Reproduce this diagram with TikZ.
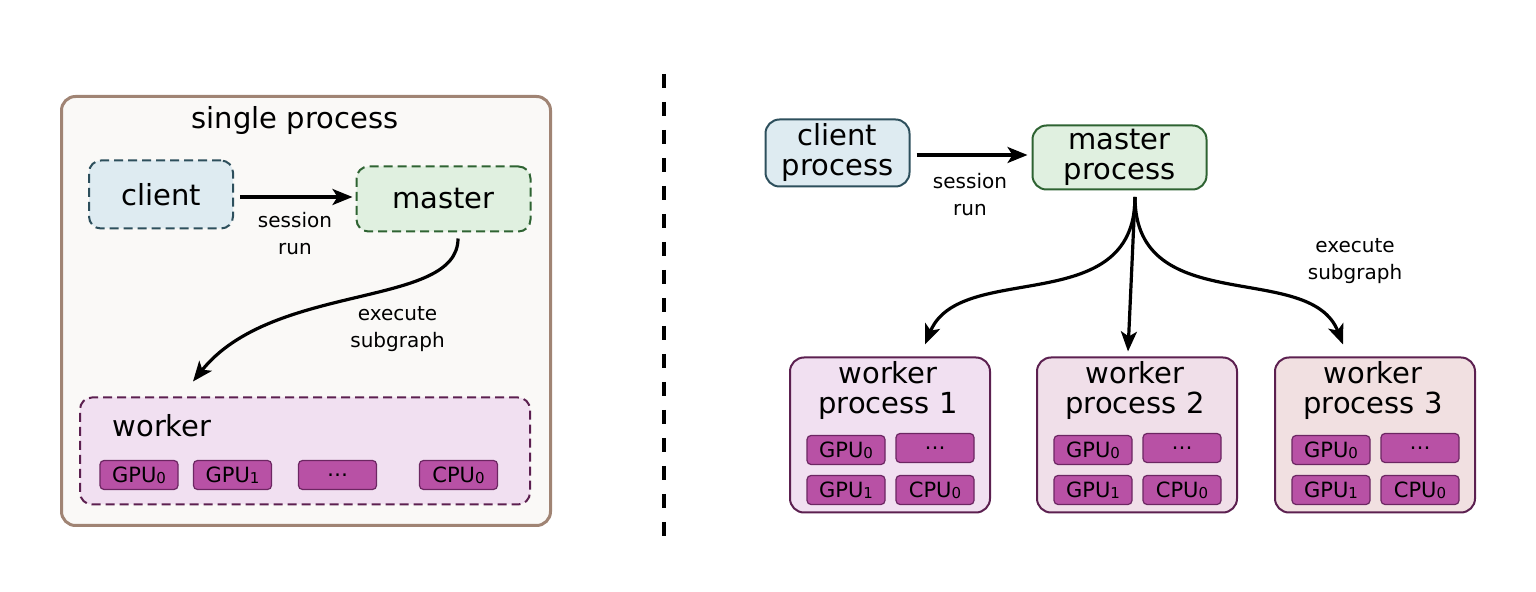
\documentclass[tikz,border=0pt]{standalone}
\usepackage{fontspec}
\setmainfont{DejaVu Sans}
\usetikzlibrary{arrows.meta}
\newcommand{\devsub}[1]{\raisebox{-0.1ex}{\fontsize{7.5}{7.5}\selectfont #1}}

\begin{document}
\begin{tikzpicture}[x=0.5pt,y=-0.5pt]
        % Colors
        \definecolor{procframe}{RGB}{160,132,116}
        \definecolor{procfill}{RGB}{250,249,247}
        \definecolor{clientline}{RGB}{45,79,92}
        \definecolor{clientfill}{RGB}{222,235,241}
        \definecolor{masterline}{RGB}{46,99,50}
        \definecolor{masterfill}{RGB}{224,240,224}
        \definecolor{workerline}{RGB}{92,32,80}
        \definecolor{workerfillA}{RGB}{241,224,241}
        \definecolor{workerfillB}{RGB}{240,223,233}
        \definecolor{workerfillC}{RGB}{241,224,225}
        \definecolor{devfill}{RGB}{184,81,165}
        \definecolor{devline}{RGB}{108,38,98}
        % Styles
        \tikzstyle{big text}=[font=\fontsize{14.5}{15}\selectfont,align=center,inner sep=0pt]
        \tikzstyle{small text}=[font=\fontsize{10}{13.5}\selectfont,align=center,inner sep=0pt]
        \tikzstyle{local box}=[line width=1pt,rounded corners=6pt,dash pattern=on 4.5pt off 2.5pt,inner sep=0pt]
        \tikzstyle{remote box}=[line width=1pt,rounded corners=7pt,inner sep=0pt]
        \tikzstyle{device}=[draw=devline,fill=devfill,line width=0.6pt,rounded corners=2pt,
            minimum width=39pt,minimum height=14.5pt,inner sep=0pt,font=\fontsize{10.5}{11}\selectfont]
        \tikzstyle{flow}=[line width=1.6pt,-{Stealth[length=10pt,width=8pt,inset=2.5pt]}]
        \useasboundingbox (0,0) rectangle (1536,592);
        %The single process
        \node[draw=procframe,fill=procfill,line width=1.5pt,rounded corners=7pt,
            minimum width=244.5pt,minimum height=214.5pt] (single) at (306,311) {};
        \node[big text] (singletitle) at (295,121) {single process};
        \node[local box,draw=clientline,fill=clientfill,minimum width=72pt,minimum height=34pt]
            (lclient) at (161,194.5) {};
        \node[big text] (lclienttext) at (lclient) {client};
        \node[local box,draw=masterline,fill=masterfill,minimum width=87pt,minimum height=32.5pt]
            (lmaster) at (443.5,199) {};
        \node[big text] (lmastertext) at (lmaster) {master};
        \node[local box,draw=workerline,fill=workerfillA,minimum width=225pt,minimum height=53.5pt]
            (lworker) at (305,451) {};
        \node[big text] (lworkertext) at (162,426) {worker};
        \node[device] (lgpu0) at (139,475) {GPU\devsub{0}};
        \node[device] (lgpu1) at (232.5,475) {GPU\devsub{1}};
        \node[device] (ldots) at (337.5,475) {…};
        \node[device] (lcpu0) at (458.5,475) {CPU\devsub{0}};
        \draw[flow,shorten <=3pt,shorten >=1.5pt] (lclient.east |- 0,197) -- (lmaster.west |- 0,197);
        \node[small text] (lsession) at (295,234) {session\\run};
        \draw[flow] ([xshift=7.25pt,yshift=-3pt]lmaster.south) .. controls +(0,70) and +(80,-100) .. ([xshift=-56pt,yshift=7.5pt]lworker.north);
        \node[small text] (lexecute) at (397.5,329) {execute\\subgraph};
        % Separator
        \draw[line width=2.4pt,dash pattern=on 7pt off 7pt] (664,74) coordinate (septop) -- (664,549) coordinate (sepbottom);
        %The distributed processes
        \node[remote box,draw=clientline,fill=clientfill,minimum width=72pt,minimum height=33.5pt]
            (rclient) at (837.5,153) {};
        \node[big text] (rclienttext) at (rclient) {client\\process};
        \node[remote box,draw=masterline,fill=masterfill,minimum width=87pt,minimum height=32pt]
            (rmaster) at (1119.5,157.5) {};
        \node[big text] (rmastertext) at (rmaster) {master\\process};
        \draw[flow,shorten <=3pt,shorten >=2pt] (rclient.east |- 0,155) -- (rmaster.west |- 0,155);
        \node[small text] (rsession) at (970,194.5) {session\\run};
        \foreach \i/\cx/\wfill in {1/890/workerfillA,2/1137/workerfillB,3/1375/workerfillC}
        {
            \node[remote box,draw=workerline,fill=\wfill,minimum width=100pt,minimum height=77.5pt]
                (rworker\i) at (\cx,435) {};
            \node[big text] (rworkertext\i) at (\cx-2,391) {worker\\process \i};
            \node[device] (rgpu0\i) at (\cx-44,450) {GPU\devsub{0}};
            \node[device] (rdots\i) at (\cx+45,448) {…};
            \node[device] (rgpu1\i) at (\cx-44,490) {GPU\devsub{1}};
            \node[device] (rcpu0\i) at (\cx+45,490) {CPU\devsub{0}};
        }
        \coordinate (fork) at (1135,197);
        \draw[flow] (fork) .. controls +(0,123) and +(35,-85) .. ([xshift=17.5pt,yshift=6pt]rworker1.north);
        \draw[flow] (fork) -- ([xshift=-4.5pt,yshift=2.5pt]rworker2.north);
        \draw[flow] (fork) .. controls +(0,123) and +(-33,-85) .. ([xshift=-16pt,yshift=6pt]rworker3.north);
        \node[small text] (rexecute) at (1355,261.5) {execute\\subgraph};
\end{tikzpicture}
\end{document}
